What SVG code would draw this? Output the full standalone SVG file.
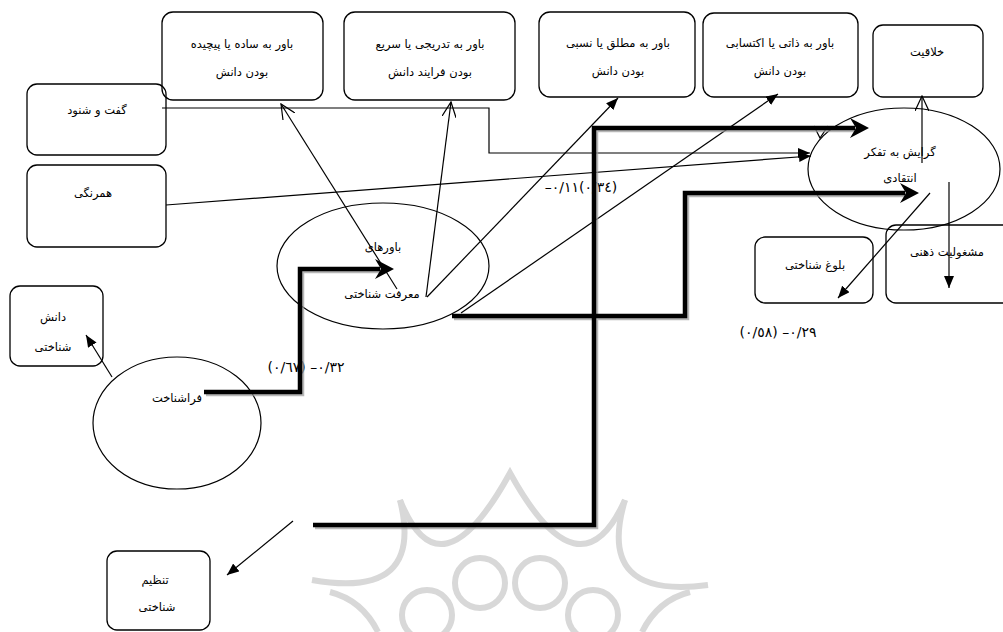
<svg xmlns="http://www.w3.org/2000/svg" width="1003" height="632" viewBox="0 0 1003 632">
<style>
.box{fill:none;stroke:#000;stroke-width:1.3}
.ell{fill:none;stroke:#000;stroke-width:1.2}
.t{font-family:'DejaVu Sans',sans-serif;font-size:11.5px;fill:#000;text-anchor:middle}
.n{font-family:'DejaVu Sans',sans-serif;font-size:14px;fill:#000;text-anchor:middle;direction:ltr;unicode-bidi:bidi-override}
.thin{fill:none;stroke:#000;stroke-width:1.2}
.thick{fill:none;stroke:#000;stroke-width:4.5;stroke-linejoin:miter}
.shadow{fill:none;stroke:#9a9a9a;stroke-width:4.5;stroke-linejoin:miter}
.wm{fill:none;stroke:#d8d8d8;stroke-width:6}
</style>
<defs>
<marker id="af" viewBox="0 0 12 10" refX="12" refY="5" markerWidth="12" markerHeight="10" markerUnits="userSpaceOnUse" orient="auto"><path d="M0,0 L12,5 L0,10 z" fill="#000"/></marker>
<marker id="ao" viewBox="0 0 16 14" refX="15" refY="7" markerWidth="16" markerHeight="14" markerUnits="userSpaceOnUse" orient="auto"><path d="M0,0 L15,7 L0,14" fill="none" stroke="#000" stroke-width="1.2"/></marker>
<path id="th" d="M0,0 L-19,-10 L-13,0 L-19,10 z"/>
</defs>
<rect width="1003" height="632" fill="#fff"/>
<g id="watermark">
<path class="wm" d="M400,500 Q440,600 510,473 Q580,600 625,500"/>
<path class="wm" d="M312,580 Q425,600 400,500"/>
<path class="wm" d="M625,500 Q595,600 708,585"/>
<path class="wm" d="M330,592 Q362,600 378,632"/>
<path class="wm" d="M690,592 Q658,600 642,632"/>
<circle class="wm" cx="480" cy="583" r="25"/>
<circle class="wm" cx="540" cy="583" r="25"/>
<circle class="wm" cx="427" cy="615" r="25"/>
<circle class="wm" cx="593" cy="615" r="25"/>
</g>
<g id="n-sade"><rect class="box" x="162" y="12" width="161" height="88" rx="11"/><text class="t" x="242" y="48">باور به ساده یا پیچیده</text><text class="t" x="242" y="76">بودن دانش</text></g>
<g id="n-tadriji"><rect class="box" x="344" y="12" width="171" height="88" rx="11"/><text class="t" x="430" y="48">باور به تدریجی یا سریع</text><text class="t" x="430" y="76">بودن فرایند دانش</text></g>
<g id="n-motlagh"><rect class="box" x="539" y="12" width="156" height="85" rx="11"/><text class="t" x="618" y="47">باور به مطلق یا نسبی</text><text class="t" x="618" y="75">بودن دانش</text></g>
<g id="n-zati"><rect class="box" x="703" y="13" width="155" height="84" rx="11"/><text class="t" x="780" y="47">باور به ذاتی یا اکتسابی</text><text class="t" x="780" y="75">بودن دانش</text></g>
<g id="n-khalaghiat"><rect class="box" x="873" y="25" width="110" height="72" rx="10"/><text class="t" x="927" y="56">خلاقیت</text></g>
<g id="n-goftogoo"><rect class="box" x="27" y="84" width="139" height="71" rx="10"/><text class="t" x="97" y="114">گفت و شنود</text></g>
<g id="n-hamrangi"><rect class="box" x="27" y="165" width="139" height="82" rx="10"/><text class="t" x="93" y="197">همرنگی</text></g>
<g id="n-danesh"><rect class="box" x="10" y="286" width="93" height="80" rx="10"/><text class="t" x="53" y="321">دانش</text><text class="t" x="53" y="351">شناختی</text></g>
<g id="n-farashenakht"><ellipse class="ell" cx="177" cy="423" rx="84" ry="66"/><text class="t" x="177" y="402">فراشناخت</text></g>
<g id="n-bavarha"><ellipse class="ell" cx="383" cy="266" rx="106" ry="63"/><text class="t" x="383" y="251">باورهای</text><text class="t" x="382" y="298">معرفت شناختی</text></g>
<g id="n-gerayesh"><ellipse class="ell" cx="904" cy="169" rx="96" ry="61"/><text class="t" x="900" y="156">گرایش به تفکر</text><text class="t" x="900" y="182">انتقادی</text></g>
<g id="n-bolugh"><rect class="box" x="755" y="237" width="118" height="66" rx="10"/><text class="t" x="815" y="269">بلوغ شناختی</text></g>
<g id="n-mashghooliat"><rect class="box" x="886" y="225" width="140" height="78" rx="10"/><text class="t" x="947" y="256">مشغولیت ذهنی</text></g>
<g id="n-tanzim"><rect class="box" x="107" y="551" width="103" height="79" rx="10"/><text class="t" x="155" y="584">تنظیم</text><text class="t" x="157" y="611">شناختی</text></g>
<g id="labels">
<text class="n" x="306" y="372">(٠/٦٧) –٠/٣٢</text>
<text class="n" x="581" y="192">–٠/١١(٠/٣٤)</text>
<text class="n" x="778" y="337">(٠/٥٨) –٠/٢٩</text>
</g>
<g id="connectors">
<path class="thin" d="M162,108 L489,108 L489,153 L810,153" marker-end="url(#af)"/>
<path class="thin" d="M166,205 L811,156" marker-end="url(#af)"/>
<path class="thin" d="M397,289 L281,104" marker-end="url(#ao)"/>
<path class="thin" d="M426,297 L451,102" marker-end="url(#ao)"/>
<path class="thin" d="M427,297 L618,98" marker-end="url(#af)"/>
<path class="thin" d="M461,313 L778,94" marker-end="url(#af)"/>
<path class="thin" d="M112,377 L86,335" marker-end="url(#af)"/>
<path class="thin" d="M293,521 L227,575" marker-end="url(#af)"/>
<path class="thin" d="M922,163 L922,96" marker-end="url(#ao)"/>
<path class="thin" d="M949,182 L949,288" marker-end="url(#af)"/>
<path class="thin" d="M930,193 L838,298" marker-end="url(#af)"/>
<polyline class="thin" points="814,126 820,138 828,126"/>
<g transform="translate(2,2)" opacity="0.7">
<path class="shadow" d="M204,392 L300,392 L300,269 L380,269"/>
<path class="shadow" d="M452,316 L685,316 L685,193 L905,193"/>
<path class="shadow" d="M313,525 L594,525 L594,128 L855,128"/>
</g>
<path class="thick" d="M204,392 L300,392 L300,269 L380,269"/>
<use href="#th" transform="translate(394,269)"/>
<path class="thick" d="M452,316 L685,316 L685,193 L905,193"/>
<use href="#th" transform="translate(919,193)"/>
<path class="thick" d="M313,525 L594,525 L594,128 L855,128"/>
<use href="#th" transform="translate(869,128)"/>
</g>
</svg>
